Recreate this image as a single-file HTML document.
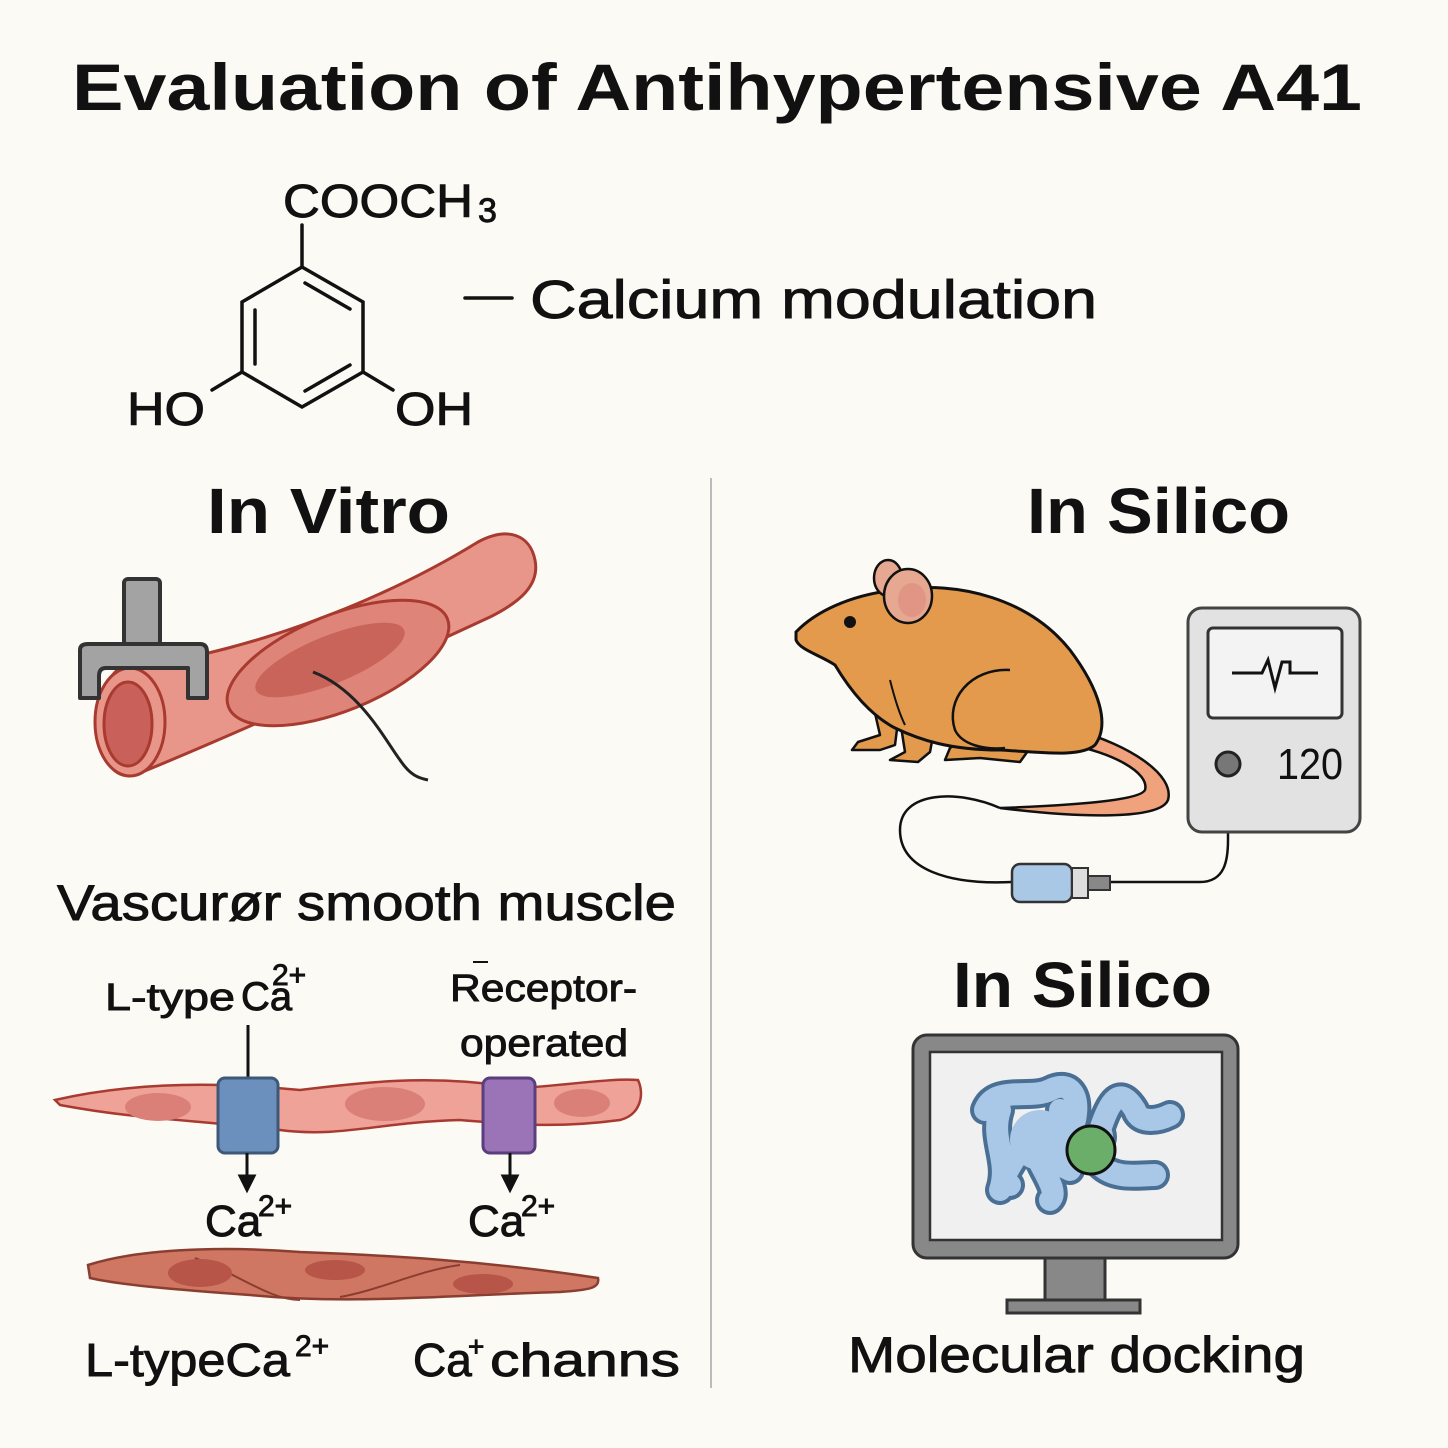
<!DOCTYPE html>
<html><head><meta charset="utf-8"><style>
html,body{margin:0;padding:0;background:#fbfaf5}
svg{display:block}
text{font-family:"Liberation Sans",sans-serif;fill:#111}
.m{stroke:#111;stroke-width:0.9}
</style></head><body>
<svg width="1448" height="1448" viewBox="0 0 1448 1448" xmlns="http://www.w3.org/2000/svg">
<rect width="1448" height="1448" fill="#fbfaf5"/>
<text x="72" y="110" font-size="66" font-weight="bold" textLength="1290" lengthAdjust="spacingAndGlyphs">Evaluation of Antihypertensive A41</text>

<!-- molecule -->
<text class="m" x="283" y="217" font-size="46" textLength="190" lengthAdjust="spacingAndGlyphs">COOCH</text>
<text class="m" x="478" y="222" font-size="34">3</text>
<g stroke="#111" stroke-width="3.5" fill="none" stroke-linecap="round">
<line x1="302" y1="225" x2="302" y2="267"/>
<polygon points="302,267 363,302 363,372 302,407 242,372 242,302"/>
<line x1="305" y1="283" x2="350" y2="309"/>
<line x1="255" y1="310" x2="255" y2="364"/>
<line x1="305" y1="391" x2="350" y2="365"/>
<line x1="242" y1="372" x2="212" y2="390"/>
<line x1="363" y1="372" x2="393" y2="390"/>
<line x1="465" y1="298" x2="512" y2="298"/>
</g>
<text class="m" x="127" y="425" font-size="46" textLength="78" lengthAdjust="spacingAndGlyphs">HO</text>
<text class="m" x="395" y="425" font-size="46" textLength="78" lengthAdjust="spacingAndGlyphs">OH</text>
<text class="m" x="530" y="318" font-size="54" textLength="567" lengthAdjust="spacingAndGlyphs">Calcium modulation</text>

<line x1="711" y1="478" x2="711" y2="1388" stroke="#bbb" stroke-width="2"/>

<text x="207" y="533" font-size="64" font-weight="bold" textLength="243" lengthAdjust="spacingAndGlyphs">In Vitro</text>
<text x="1027" y="533" font-size="64" font-weight="bold" textLength="263" lengthAdjust="spacingAndGlyphs">In Silico</text>
<text x="953" y="1007" font-size="64" font-weight="bold" textLength="259" lengthAdjust="spacingAndGlyphs">In Silico</text>

<!-- vessel -->
<g stroke="#a83a30" stroke-width="3">
<path d="M120,668 L200,655 C300,632 400,590 478,542 C508,526 530,535 535,560 C540,585 520,602 490,617 C380,668 250,728 135,775 C92,785 88,690 120,668 Z" fill="#e9968a"/>
<ellipse cx="338" cy="663" rx="118" ry="48" transform="rotate(-22 338 663)" fill="#de8478"/>
<ellipse cx="330" cy="660" rx="80" ry="24" transform="rotate(-22 330 660)" fill="#c9645a" stroke="none"/>
<ellipse cx="130" cy="722" rx="35" ry="54" fill="#e9968a"/>
<ellipse cx="128" cy="724" rx="24" ry="42" fill="#c9605a"/>
</g>
<path d="M313,672 C360,690 385,740 400,760 C410,775 418,778 428,780" stroke="#222" stroke-width="3" fill="none"/>
<g fill="#a3a3a3" stroke="#333" stroke-width="4" stroke-linejoin="round">
<rect x="124" y="579" width="36" height="66" rx="4"/>
<path d="M80,650 Q80,644 88,644 L200,644 Q207,644 207,652 L207,698 L188,698 L188,668 L106,668 Q99,668 99,676 L99,698 L80,698 Z"/>
</g>

<text class="m" x="57" y="920" font-size="50" textLength="619" lengthAdjust="spacingAndGlyphs">Vascurør smooth muscle</text>

<!-- muscle cells -->
<text class="m" x="105" y="1010" font-size="38" textLength="130" lengthAdjust="spacingAndGlyphs">L-type</text>
<text class="m" x="241" y="1010" font-size="40">Ca</text>
<text class="m" x="272" y="985" font-size="30">2+</text>
<text class="m" x="450" y="1001" font-size="38" textLength="187" lengthAdjust="spacingAndGlyphs">Receptor-</text>
<line x1="473" y1="962" x2="488" y2="962" stroke="#111" stroke-width="2"/>
<text class="m" x="460" y="1056" font-size="38" textLength="168" lengthAdjust="spacingAndGlyphs">operated</text>
<line x1="248" y1="1025" x2="248" y2="1080" stroke="#111" stroke-width="3"/>
<path d="M55,1100 C120,1085 200,1080 300,1090 C380,1080 440,1075 520,1088 C570,1085 610,1078 638,1080 C645,1095 640,1115 620,1120 C560,1128 520,1125 460,1120 C380,1122 340,1138 280,1130 C200,1120 140,1120 60,1105 Z" fill="#eea298" stroke="#a83a30" stroke-width="2.5"/>
<ellipse cx="158" cy="1107" rx="33" ry="14" fill="#db8078"/>
<ellipse cx="385" cy="1104" rx="40" ry="17" fill="#db8078"/>
<ellipse cx="582" cy="1103" rx="28" ry="14" fill="#db8078"/>
<rect x="218" y="1078" width="60" height="75" rx="7" fill="#6c90bd" stroke="#3e5878" stroke-width="3"/>
<rect x="483" y="1078" width="52" height="75" rx="7" fill="#9b74b8" stroke="#5a3e7d" stroke-width="3"/>
<g stroke="#111" stroke-width="3" fill="#111">
<line x1="247" y1="1153" x2="247" y2="1180"/><path d="M240,1176 L247,1190 L254,1176 Z"/>
<line x1="510" y1="1153" x2="510" y2="1180"/><path d="M503,1176 L510,1190 L517,1176 Z"/>
</g>
<text class="m" x="205" y="1236" font-size="44">Ca</text><text class="m" x="258" y="1216" font-size="30">2+</text>
<text class="m" x="468" y="1236" font-size="44">Ca</text><text class="m" x="521" y="1216" font-size="30">2+</text>
<path d="M88,1265 C150,1245 250,1248 300,1252 C380,1255 480,1260 598,1278 C600,1288 590,1290 560,1292 C450,1295 350,1305 250,1295 C180,1290 120,1285 90,1278 Z" fill="#cf7763" stroke="#8a3e30" stroke-width="2.5"/>
<path d="M195,1258 C240,1275 270,1300 300,1300 M340,1297 C380,1290 420,1270 460,1265" stroke="#8a3e30" stroke-width="2" fill="none"/>
<ellipse cx="200" cy="1273" rx="32" ry="14" fill="#b65548"/>
<ellipse cx="335" cy="1270" rx="30" ry="10" fill="#b65548"/>
<ellipse cx="483" cy="1284" rx="30" ry="10" fill="#b65548"/>

<text class="m" x="85" y="1376" font-size="46" textLength="205" lengthAdjust="spacingAndGlyphs">L-typeCa</text>
<text class="m" x="295" y="1356" font-size="30">2+</text>
<text class="m" x="413" y="1376" font-size="46">Ca</text><text class="m" x="468" y="1356" font-size="28">+</text>
<text class="m" x="490" y="1376" font-size="46" textLength="190" lengthAdjust="spacingAndGlyphs">channs</text>

<!-- rat cable -->
<path d="M1000,808 C960,790 900,790 900,830 C900,870 950,885 1012,882" stroke="#111" stroke-width="2.5" fill="none"/>
<path d="M1110,882 L1200,882 C1225,882 1228,860 1228,840 L1228,768" stroke="#111" stroke-width="2.5" fill="none"/>
<!-- tail -->
<path d="M1075,730 C1130,745 1175,775 1168,800 C1160,820 1080,818 1000,808 C1080,805 1140,800 1145,790 C1150,772 1110,752 1070,745 Z" fill="#efa27c" stroke="#111" stroke-width="2.5"/>
<!-- legs -->
<g fill="#e39a4d" stroke="#111" stroke-width="2.5" stroke-linejoin="round">
<path d="M872,700 L880,735 L858,742 L852,750 L880,750 L895,745 L900,705 Z"/>
<path d="M900,720 L905,752 L890,760 L918,762 L930,752 L935,725 Z"/>
<path d="M970,735 L950,748 L945,760 L980,758 L1020,762 L1030,748 L1010,735 Z"/>
</g>
<!-- body -->
<path d="M796,632 C815,612 850,595 895,590 C960,580 1030,600 1070,650 C1100,690 1110,725 1095,745 C1080,758 1040,752 1000,750 C950,750 920,740 895,728 C870,715 850,690 835,665 C820,655 800,650 796,640 Z" fill="#e39a4d" stroke="#111" stroke-width="3"/>
<path d="M1010,670 C970,668 945,700 955,730 C962,745 985,750 1005,748" fill="none" stroke="#111" stroke-width="2.5"/>
<path d="M890,680 C895,700 900,715 905,725" fill="none" stroke="#111" stroke-width="2"/>
<ellipse cx="888" cy="578" rx="14" ry="18" fill="#e6a890" stroke="#111" stroke-width="2.5"/>
<ellipse cx="908" cy="596" rx="24" ry="27" fill="#e6a890" stroke="#111" stroke-width="2.5"/>
<ellipse cx="912" cy="600" rx="14" ry="17" fill="#e09585"/>
<circle cx="850" cy="622" r="6" fill="#111"/>

<!-- device -->
<rect x="1188" y="608" width="172" height="224" rx="14" fill="#e2e2e2" stroke="#444" stroke-width="3"/>
<rect x="1208" y="628" width="134" height="90" rx="5" fill="#f3f3f3" stroke="#333" stroke-width="3"/>
<path d="M1232,673 L1262,673 L1268,660 L1275,688 L1282,662 L1290,662 L1290,673 L1318,673" stroke="#111" stroke-width="3" fill="none"/>
<circle cx="1228" cy="764" r="12" fill="#777" stroke="#222" stroke-width="3"/>
<text x="1277" y="779" font-size="44" textLength="66" lengthAdjust="spacingAndGlyphs" font-family="Liberation Mono">120</text>
<rect x="1012" y="864" width="60" height="38" rx="8" fill="#a9c8e6" stroke="#333" stroke-width="2.5"/>
<rect x="1072" y="868" width="16" height="30" fill="#ddd" stroke="#333" stroke-width="2"/>
<rect x="1088" y="876" width="22" height="14" fill="#888" stroke="#333" stroke-width="2"/>

<!-- monitor -->
<rect x="1045" y="1256" width="60" height="46" fill="#888" stroke="#333" stroke-width="3"/>
<rect x="1007" y="1300" width="133" height="13" fill="#888" stroke="#333" stroke-width="3"/>
<rect x="913" y="1035" width="325" height="223" rx="14" fill="#888" stroke="#333" stroke-width="3"/>
<rect x="930" y="1052" width="292" height="188" fill="#f0f0f0" stroke="#333" stroke-width="2.5"/>
<g fill="none" stroke-linecap="round" stroke-linejoin="round">
<g stroke="#4a6f94" stroke-width="30">
<path d="M985,1110 C995,1085 1030,1100 1050,1090 C1070,1080 1080,1095 1075,1120 M1000,1110 C990,1140 1010,1160 1000,1190 M1030,1140 C1040,1170 1060,1190 1050,1200 M1060,1110 C1080,1150 1110,1150 1100,1130 C1110,1100 1120,1085 1135,1110 C1140,1125 1160,1120 1170,1115 M1100,1165 C1115,1180 1140,1175 1155,1175 M1020,1150 C1005,1175 1000,1180 1010,1185 M1050,1160 L1070,1170"/>
</g>
<g stroke="#a9c7e6" stroke-width="22">
<path d="M985,1110 C995,1085 1030,1100 1050,1090 C1070,1080 1080,1095 1075,1120 M1000,1110 C990,1140 1010,1160 1000,1190 M1030,1140 C1040,1170 1060,1190 1050,1200 M1060,1110 C1080,1150 1110,1150 1100,1130 C1110,1100 1120,1085 1135,1110 C1140,1125 1160,1120 1170,1115 M1100,1165 C1115,1180 1140,1175 1155,1175 M1020,1150 C1005,1175 1000,1180 1010,1185 M1050,1160 L1070,1170"/>
</g>
<ellipse cx="1040" cy="1140" rx="30" ry="30" fill="#a9c7e6" stroke="none"/>
</g>
<circle cx="1091" cy="1150" r="24" fill="#6aae6a" stroke="#111" stroke-width="3"/>

<text class="m" x="848" y="1372" font-size="50" textLength="457" lengthAdjust="spacingAndGlyphs">Molecular docking</text>
</svg>
</body></html>
